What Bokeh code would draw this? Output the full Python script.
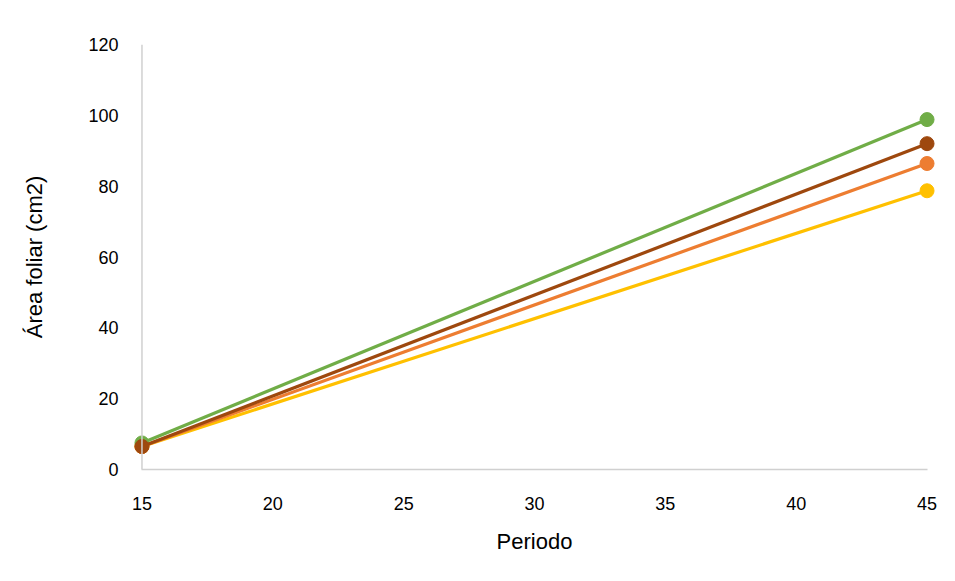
from bokeh.plotting import figure
from bokeh.embed import file_html
from bokeh.resources import INLINE
from bokeh.models import Range1d, FixedTicker, Span

periodo = [15, 45]
green = [7.5, 98.8]
brown = [6.5, 92.0]
orange = [6.5, 86.4]
yellow = [6.5, 78.7]
x_ticks = [15, 20, 25, 30, 35, 40, 45]
y_ticks = [0, 20, 40, 60, 80, 100, 120]

series = [
    (yellow, "#FFC000"),
    (orange, "#ED7D31"),
    (green, "#70AD47"),
    (brown, "#9E480E"),
]

p = figure(width=947, height=573, output_backend="svg", toolbar_location=None,
           x_range=Range1d(14.6, 45.4), y_range=Range1d(0, 120),
           min_border_left=131, min_border_right=10, min_border_top=44, min_border_bottom=104)
p.outline_line_color = None
p.xgrid.visible = False
p.ygrid.visible = False

p.add_layout(Span(location=15, dimension="height", line_color="#d0d0d0", line_width=1.5))

for ys, c in series:
    p.line(periodo, ys, line_color=c, line_width=3.2)
    p.scatter(periodo, ys, size=14, fill_color=c, line_color=c)

for ax in (p.xaxis[0], p.yaxis[0]):
    ax.axis_line_color = "#d0d0d0"
    ax.axis_line_width = 1.5
    ax.major_tick_line_color = None
    ax.minor_tick_line_color = None
    ax.major_label_text_font = "Liberation Sans"
    ax.major_label_text_font_size = "18px"
    ax.major_label_text_color = "#000000"
    ax.axis_label_text_font = "Liberation Sans"
    ax.axis_label_text_font_size = "22px"
    ax.axis_label_text_font_style = "normal"
    ax.axis_label_text_color = "#000000"

p.yaxis.axis_line_color = None
p.xaxis.bounds = (15, 45)
p.xaxis.ticker = FixedTicker(ticks=x_ticks)
p.yaxis.ticker = FixedTicker(ticks=y_ticks)
p.xaxis.axis_label = "Periodo"
p.yaxis.axis_label = "Área foliar (cm2)"
p.xaxis.major_label_standoff = 21
p.yaxis.major_label_standoff = 7
p.xaxis.axis_label_standoff = 16
p.yaxis.axis_label_standoff = 38

open("out.html", "w").write(file_html(p, INLINE))
